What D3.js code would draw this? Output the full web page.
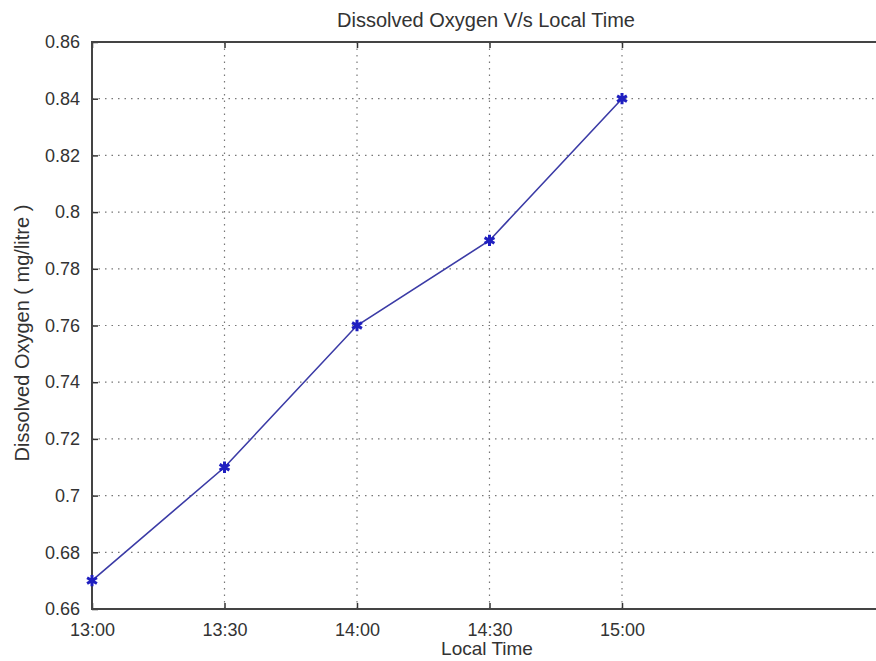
<!DOCTYPE html>
<html>
<head>
<meta charset="utf-8">
<script src="https://cdn.jsdelivr.net/npm/d3@7"></script>
<style>
  body { margin: 0; background: #fff; }
  svg text { font-family: "Liberation Sans", Arial, sans-serif; fill: #333; }
</style>
</head>
<body>
<div id="chart"></div>
<script>
// data
const times = ['13:00', '13:30', '14:00', '14:30', '15:00'];
const oxygen = [0.67, 0.71, 0.76, 0.79, 0.84];
const yTicks = [0.66, 0.68, 0.70, 0.72, 0.74, 0.76, 0.78, 0.80, 0.82, 0.84, 0.86];

const width = 876, height = 661;
const m = { left: 92, top: 42, right: 887, bottom: 609 };

const parse = d3.timeParse('%H:%M');
const fmt = d3.timeFormat('%H:%M');
const points = times.map((t, i) => ({ t: parse(t), v: oxygen[i] }));

const svg = d3.select('#chart').append('svg')
  .attr('width', width)
  .attr('height', height);

const x = d3.scaleTime()
  .domain([parse('13:00'), parse('16:00')])
  .range([m.left, m.right]);

const y = d3.scaleLinear()
  .domain([0.66, 0.86])
  .range([m.bottom, m.top]);

// grid
svg.append('g').selectAll('line')
  .data(yTicks.slice(1, -1))
  .enter().append('line')
  .attr('x1', m.left).attr('x2', m.right)
  .attr('y1', d => y(d)).attr('y2', d => y(d))
  .attr('stroke', '#777').attr('stroke-width', 1.2)
  .attr('stroke-dasharray', '1.5,5');

svg.append('g').selectAll('line')
  .data(points.slice(1))
  .enter().append('line')
  .attr('y1', m.top).attr('y2', m.bottom)
  .attr('x1', d => x(d.t)).attr('x2', d => x(d.t))
  .attr('stroke', '#777').attr('stroke-width', 1.2)
  .attr('stroke-dasharray', '1.5,5');

// axes (MATLAB style, ticks inward)
const xAxis = d3.axisBottom(x)
  .tickValues(points.map(d => d.t))
  .tickFormat(fmt)
  .tickSizeInner(-6).tickSizeOuter(0).tickPadding(14);

const yAxis = d3.axisLeft(y)
  .tickValues(yTicks)
  .tickFormat(d => d3.format('.2~f')(d))
  .tickSizeInner(-6).tickSizeOuter(0).tickPadding(12);

svg.append('g')
  .attr('transform', `translate(0,${m.bottom})`)
  .call(xAxis)
  .call(g => g.select('.domain').remove());

svg.append('g')
  .attr('transform', `translate(0,${m.top})`)
  .call(d3.axisTop(x).tickValues(points.map(d => d.t)).tickFormat('').tickSizeInner(-6).tickSizeOuter(0))
  .call(g => g.select('.domain').remove());

svg.append('g')
  .attr('transform', `translate(${m.left},0)`)
  .call(yAxis)
  .call(g => g.select('.domain').remove());

svg.selectAll('.tick line').attr('stroke', '#333').attr('stroke-width', 1.5);
svg.selectAll('.tick text')
  .attr('font-size', 18)
  .attr('fill', '#333')
  .attr('font-family', '"Liberation Sans", Arial, sans-serif');

// frame
svg.append('rect')
  .attr('x', m.left).attr('y', m.top)
  .attr('width', m.right - m.left).attr('height', m.bottom - m.top)
  .attr('fill', 'none')
  .attr('stroke', '#444').attr('stroke-width', 2);

// series
const line = d3.line().x(d => x(d.t)).y(d => y(d.v));
svg.append('path')
  .datum(points)
  .attr('d', line)
  .attr('fill', 'none')
  .attr('stroke', '#3b3ba6')
  .attr('stroke-width', 1.6);

const star = d3.symbol().type(d3.symbolAsterisk).size(90);
svg.append('g').selectAll('path')
  .data(points)
  .enter().append('path')
  .attr('transform', d => `translate(${x(d.t)},${y(d.v)})`)
  .attr('d', star)
  .attr('fill', 'none')
  .attr('stroke', '#1f1fc0')
  .attr('stroke-width', 3);

// labels
svg.append('text')
  .attr('x', 486).attr('y', 27)
  .attr('text-anchor', 'middle')
  .attr('font-size', 20)
  .text('Dissolved Oxygen V/s Local Time');

svg.append('text')
  .attr('x', 487).attr('y', 655)
  .attr('text-anchor', 'middle')
  .attr('font-size', 19)
  .text('Local Time');

svg.append('text')
  .attr('transform', `translate(29,333) rotate(-90)`)
  .attr('text-anchor', 'middle')
  .attr('font-size', 20)
  .text('Dissolved Oxygen ( mg/litre )');
</script>
</body>
</html>
